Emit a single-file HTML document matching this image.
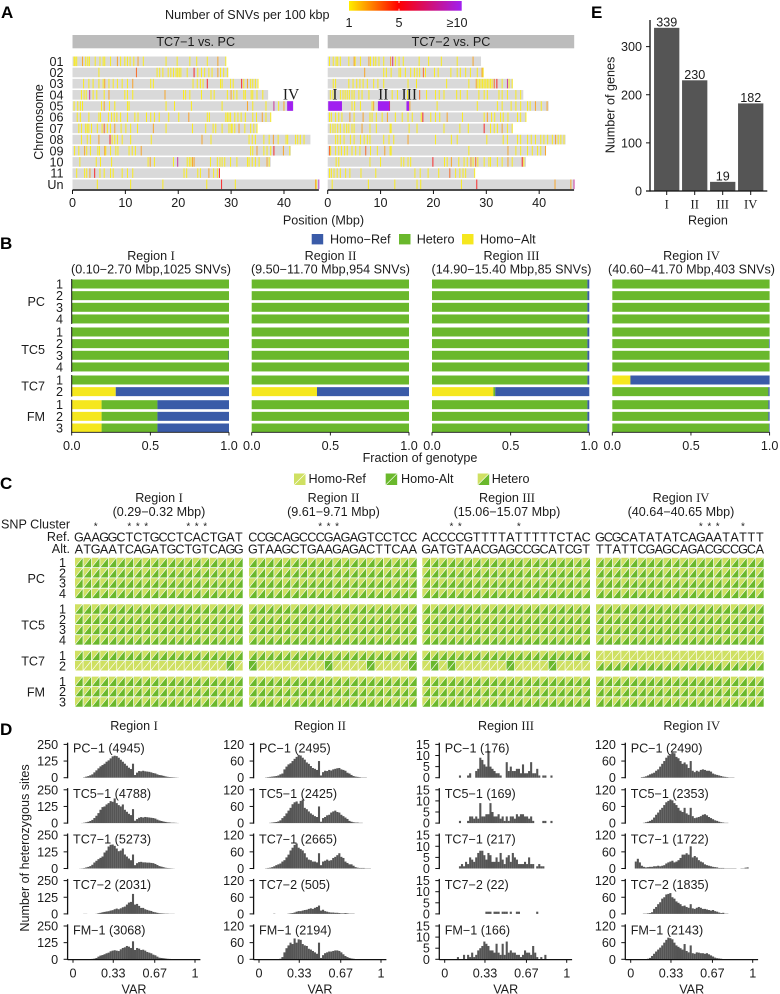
<!DOCTYPE html>
<html lang="en">
<head>
<meta charset="utf-8">
<title>SNV figure</title>
<style>
html,body{margin:0;padding:0;background:#fff}
svg{display:block;filter:blur(0.3px)}
text{font-family:"Liberation Sans",Arial,sans-serif;font-size:12.6px;fill:#1c1c1c}
.rn{font-family:"Liberation Serif",serif}
.pl{font-weight:bold;font-size:17px;fill:#000}
.m{text-anchor:middle}
</style>
</head>
<body>
<svg id="fig" xmlns="http://www.w3.org/2000/svg" width="780" height="994" viewBox="0 0 780 994">
<defs>
<linearGradient id="cbar" x1="0" x2="1" y1="0" y2="0">
<stop offset="0" stop-color="#ffee00"/><stop offset="0.44" stop-color="#ff0000"/><stop offset="1" stop-color="#a020f0"/>
</linearGradient>
</defs>
<text class="pl" x="1" y="18">A</text>
<text class="pl" x="0" y="249">B</text>
<text class="pl" x="0" y="489">C</text>
<text class="pl" x="0" y="735">D</text>
<text class="pl" x="591" y="18">E</text>

<text x="165" y="19">Number of SNVs per 100 kbp</text>
<rect x="349" y="1" width="112.7" height="9.7" fill="url(#cbar)"/>
<rect x="398.6" y="1" width="0.8" height="2" fill="#fff"/>
<rect x="398.6" y="8.7" width="0.8" height="2" fill="#fff"/>
<text class="m" x="349" y="27">1</text>
<text class="m" x="399" y="27">5</text>
<text class="m" x="457" y="27">≥10</text>

<rect x="72.5" y="35" width="246.5" height="13.3" fill="#bcbcbc"/>
<rect x="327.7" y="35" width="246.5" height="13.3" fill="#bcbcbc"/>
<text class="m" x="195.7" y="46.2">TC7−1 vs. PC</text>
<text class="m" x="451" y="46.2">TC7−2 vs. PC</text>
<text class="m" transform="translate(43,122) rotate(-90)">Chromosome</text>
<text class="m" x="323.5" y="224.5">Position (Mbp)</text>

<text class="m" x="420" y="462">Fraction of genotype</text>
<rect x="311.7" y="234" width="11.5" height="10.4" fill="#3a5ba8"/>
<text x="330" y="243.5">Homo−Ref</text>
<rect x="399" y="234" width="11.5" height="10.4" fill="#6ab82c"/>
<text x="416.7" y="243.5">Hetero</text>
<rect x="462" y="234" width="11.5" height="10.4" fill="#f5e71e"/>
<text x="480" y="243.5">Homo−Alt</text>

<text class="m" x="151" y="260">Region <tspan class="rn">I</tspan></text>
<text class="m" x="151" y="273.7">(0.10−2.70 Mbp,1025 SNVs)</text>
<text class="m" x="330.5" y="260">Region <tspan class="rn">II</tspan></text>
<text class="m" x="330.5" y="273.7">(9.50−11.70 Mbp,954 SNVs)</text>
<text class="m" x="511.5" y="260">Region <tspan class="rn">III</tspan></text>
<text class="m" x="511.5" y="273.7">(14.90−15.40 Mbp,85 SNVs)</text>
<text class="m" x="691.5" y="260">Region <tspan class="rn">IV</tspan></text>
<text class="m" x="691.5" y="273.7">(40.60−41.70 Mbp,403 SNVs)</text>

<text x="308.5" y="483">Homo-Ref</text>
<text x="401" y="483">Homo-Alt</text>
<text x="491.7" y="483">Hetero</text>

<text class="m" x="159" y="502">Region <tspan class="rn">I</tspan></text>
<text class="m" x="159" y="516">(0.29−0.32 Mbp)</text>
<text class="m" x="333.5" y="502">Region <tspan class="rn">II</tspan></text>
<text class="m" x="333.5" y="516">(9.61−9.71 Mbp)</text>
<text class="m" x="507" y="502">Region <tspan class="rn">III</tspan></text>
<text class="m" x="507" y="516">(15.06−15.07 Mbp)</text>
<text class="m" x="681" y="502">Region <tspan class="rn">IV</tspan></text>
<text class="m" x="681" y="516">(40.64−40.65 Mbp)</text>
<text x="1" y="528.5">SNP Cluster</text>
<text x="70" y="541" text-anchor="end">Ref.</text>
<text x="70" y="553" text-anchor="end">Alt.</text>

<text class="m" x="134" y="730">Region <tspan class="rn">I</tspan></text>
<text class="m" x="320" y="730">Region <tspan class="rn">II</tspan></text>
<text class="m" x="506" y="730">Region <tspan class="rn">III</tspan></text>
<text class="m" x="691.7" y="730">Region <tspan class="rn">IV</tspan></text>
<text class="m" transform="translate(29,848) rotate(-90)">Number of heterozygous sites</text>

<text class="m" transform="translate(614.5,105) rotate(-90)">Number of genes</text>
<text class="m" x="708" y="224.5">Region</text>
</svg>
<script>
/* ---------- Panel A data (Mbp) ---------- */
const chromosomes = ["01","02","03","04","05","06","07","08","09","10","11","Un"];
const chromLengths = [29.0,29.5,35.0,37.0,41.8,37.5,35.0,45.0,41.3,37.5,27.8,46.6];
const tc71Positions = [
[0.2,0.4,0.7,2.4,2.8,3.1,4.2,5.1,5.7,6.0,7.1,9,9.8,10.3,10.8,11.5,13.3,17.6,19.7,22.1,23.4,25.4,28.9],
[4.9,15.9,16.4,17,18,18.5,19,19.5,19.8,20.1,20.4,21.6,23.6,24.3,24.9,25.7,26.3,27.9,28.5,29.2],
[2,3,3.8,4.9,5.7,6.8,7.6,8.4,9.3,10.3,14.7,15.2,22.7,23.5,24.1,24.6,27.9,28.2,29.8,30.3,32.3,33.6,34,34.5,35],
[1.6,2.1,2.5,3.8,4.5,5.9,9.8,10.3,11.3,20.9,21.3,22.1,24.3,26.1,26.7,29.2,30.4,31,32.3,32.6,33.7,34,34.8,35.9],
[0.2,0.9,1.4,1.8,5.4,6.9,7.9,10.3,10.6,17.6,19.2,22.4,28.2,34,36.5,38.9],
[0.8,1.4,3,4.9,5.2,6.7,7.3,7.8,8.3,9,10.3,11.7,12.3,13.9,14.7,15.4,16.3,18.1,20,25.4,25.8,28.9,29.2,29.5,29.8,30.6,31.2,31.8,32.6,34,34.7,36.5,37.4],
[1.1,1.6,2.4,2.7,3,3.5,4.6,5.5,6.5,7.1,9.1,10,10.9,12.2,17.6,22.6,25.1,26.5,27,28.2,29.5,29.9,30.1,30.6,32.5,33.6,34.2,34.8],
[1.6,2.7,3.3,7.4,7.9,8.4,9.3,10.9,14.8,26.1,33.3,33.9,34.5,36.1,37.1,38.8,40.3,40.6,42.1,42.5,43,43.7],
[0.3,1.1,2.6,3.3,4.7,5,6.2,7.1,8.1,8.5,10.6,11.2,11.8,33.6,34,36.1,36.7,37.4,41],
[1.3,4.4,5.2,7.3,14.2,15.4,19,21.6,22,22.3,26,27.3,27.8,28.2,28.7,29.8,31,33,33.3,33.9,34.5,35.2,37.1],
[0.7,2.2,2.6,5.1,5.9,7.1,7.6,9.3,10.3,11.3,21,21.5,23.6,24.1,26.6,27.3],
[4.6,10.9,17,25.3,30.7,46]
];
const tc71Hotspots = [
[0,1.8,3],[0,8.4,3],[0,12.3,3],[0,27.4,3],[1,12,4],[1,22.9,5],[1,27.4,3],[2,6,3],[2,11.3,3],[2,25.4,5],[2,31.9,5],[2,33,3],
[3,3.15,8],[3,6.8,3],[3,17.4,3],[3,29.9,3],[4,5.9,3],[4,33,3],[4,38,8],[4,39.9,3],[5,21.9,3],[5,35.8,3],[6,5.9,4],[6,7.9,3],[6,15.2,3],[6,31.4,3],
[7,4.9,3],[7,7,5],[7,24.4,3],[7,37.9,3],[8,2.2,3],[8,6,3],[8,12.9,3],[8,34.8,3],[8,38,5],[8,39.8,3],[9,14.6,3],[9,19.8,8],[9,22.6,3],[9,22.9,3],[9,36.7,3],
[10,3.2,3],[10,4.1,5],[10,25.7,3],[10,27.7,5],[11,28.1,5],[11,45.9,3],[11,46.5,9]
];
const tc71Blocks = [[4,40.6,41.7,10]];
const tc72Positions = [
[0.25,0.95,1.5,1.8,2.3,3.9,5.1,6.1,8,8.6,9,9.6,10.5,12.7,13.4,14.2,17.2,19,21.4,24.4],
[10.5,11,11.9,13.4,13.7,14.6,15.6,16.3,16.8,17.3,18.4,20.1,20.8,23.2,24.4,25,26,26.9,28.2,29.3],
[0.95,1.4,3.9,4.7,5.4,6,6.6,7.4,8.6,9.4,10.5,15.1,16.7,22.4,26.6,28.3,28.6,28.9,29.2,29.5,29.8,30.1,30.4,30.7,31,32.9,34.2,34.8],
[0.4,0.9,2.3,2.8,3.2,3.6,4,4.5,4.9,5.8,6.4,7.7,12.1,13.1,15,15.3,18.6,20.3,21,21.9,24.3,25,26.3,28.5,29.5,30.1,32.3,32.9,33.9,35.5,36.4],
[4.5,5,6.1,8.3,20.6,28.2,32,32.9,34.6,35.5,36.4,37.7,38.2,40.3],
[0.25,0.6,1.4,2,2.6,4.9,7.9,8.3,9.1,10.2,12.7,14,15.1,15.9,17.6,19.4,20.3,21.1,25.4,29.5,30.9,31.5,32.6,33.1,34,35.8,36.4,37.4],
[0.4,0.9,1.3,1.8,2.3,3,3.5,3.9,4.5,4.9,7.9,9.1,11.7,11.9,15.3,16.8,21.9,24.9,26.5,30.7,31.4,32,33.9,34.8],
[1.4,1.8,2.3,3,4.2,4.9,6.1,6.8,7.4,7.9,10.5,11.5,12.4,20.3,23.3,24.4,30,33.1,33.9,35.8,36.4,37.7,38.4,39.2,40.2,40.8,41.5,42.4,43.5,44,44.6],
[0.45,1.4,2,2.5,3.1,3.6,4.5,5.2,6,8,9.3,11.7,11.9,26.6,35.5,36.4,37.7,38.6,39.6,40.2],
[1.5,2,7.9,9.9,13.8,14.3,15.1,15.6,22,22.5,24.7,25.7,26.3,27.4,28.3,29.5,30.4,30.7,32,32.9,34.8,37],
[0.25,0.6,1.1,1.7,2.3,3.3,4.1,6.2,9,16.4,17.4,18.9,20.9,24.1,24.9,25.5,26,27.7],
[0.75,7.6,12.6,16.8,17.5,25.2]
];
const tc72Hotspots = [
[0,4.9,3],[0,7.7,3],[0,11.8,3],[0,12.2,7],[0,27.4,3],[1,6.9,3],[1,18,4],[1,29.1,3],[2,28,3],[2,31.4,4],[2,31.9,5],[2,33.9,8],
[3,17.3,4],[4,8.6,3],[4,11.6,5],[4,15.45,3],[4,39.2,3],[4,41.4,3],[5,4.1,3],[5,6.6,3],[5,11.2,3],[5,17.9,5],[5,22.5,3],[5,30.1,3],
[6,6.4,3],[6,29.5,5],[6,32.9,3],[7,15.1,3],[7,43,3],[8,0.25,4],[8,7.1,4],[8,10.7,3],[8,34,3],[8,41.1,3],[9,19.8,5],[9,23.3,3],[9,27,3],[9,27.9,4],[9,34,3],[9,36.7,5],
[10,23,4],[11,28.1,5],[11,42.9,3],[11,45.9,3],[11,46.5,8]
];
const tc72Blocks = [[4,0.1,2.7,10],[4,9.5,11.7,10],[4,14.9,15.4,10]];
const positionTicks = [0,10,20,30,40];
const regionMarks = [["IV",291,0],["I",335,1],["II",383.3,1],["III",409.3,1]];

/* ---------- Panel B data (fractions) ---------- */
const genotypeGroups = ["PC","TC5","TC7","FM"];
const genotypeGroupSizes = [4,4,2,3];
const region1Alt = [0,0,0,0,0,0,0,0,0,0.28,0.19,0.19,0.19];
const region1Ref = [0,0,0,0,0,0,0.003,0,0,0.72,0.455,0.455,0.455];
const region2Alt = [0,0,0,0,0,0,0,0,0,0.415,0,0,0];
const region2Ref = [0,0,0,0,0,0,0,0,0,0.585,0,0,0];
const region3Alt = [0,0,0,0,0,0,0,0,0,0.39,0,0,0];
const region3Ref = [0.012,0.012,0.012,0.012,0.012,0.012,0.012,0.012,0.012,0.598,0.012,0.012,0.012];
const region4Alt = [0,0,0,0,0,0,0,0,0.115,0,0,0,0];
const region4Ref = [0,0,0,0,0,0.004,0,0,0.885,0.008,0.008,0.008,0.004];
const fractionTicks = ["0.0","0.5","1.0"];

/* ---------- Panel C data ---------- */
const refSeqs = ["GAAGGCTCTGCCTCACTGAT","CCGCAGCCCGAGAGTCCTCC","ACCCCGTTTTATTTTTCTAC","GCGCATATATCAGAATATTT"];
const altSeqs = ["ATGAATCAGATGCTGTCAGG","GTAAGCTGAAGAGACTTCAA","GATGTAACGAGCCGCATCGT","TTATTCGAGCAGACGCCGCA"];
const clusterStars = [[2,6,7,8,13,14,15],[8,9,10],[3,4,11],[12,13,14,17]];
const tc71Genotypes = ["HHHHHHHHHHHHHHHHHHHH","HHHHHHHHHHHHHHHHHHHH","HHHHHHHHHHHHHHHHHHHH","RRRRRRRRRRRRRRRRRRRR"];
const tc72Genotypes = ["RRRRRRRRRRRRRRRRRRAR","ARRRRRRRRARRRRARRRRA","RARARRRRRRARRRRARRRR","HHHHHHHHHHHHHHHHHHHH"];

/* ---------- Panel D data (counts per VAR bin, 60 bins) ---------- */
const sampleNames = ["PC−1","TC5−1","TC7−1","TC7−2","FM−1"];
const sampleTotals = [[4945,4788,5273,2031,3068],[2495,2425,2665,505,2194],[176,169,217,22,166],[2490,2353,1722,1835,2143]];
const histMaxima = [250,120,15,120];
const histTicks = [[0,125,250],[0,60,120],[0,5,10,15],[0,60,120]];
const varTicks = [0,0.33,0.67,1];
const histI = [
[0,0,0,0,0,3,8,12,18,25,40,55,70,85,95,105,120,130,145,160,165,162,150,135,120,105,90,75,65,105,20,38,50,48,52,48,46,44,40,35,32,25,20,18,14,10,7,5,4,3,2,1],
[0,0,0,0,1,3,6,10,16,24,38,55,75,100,120,125,140,150,165,160,185,150,135,125,140,100,85,70,60,105,18,30,40,45,42,46,44,42,40,38,34,26,20,16,12,9,6,5,3,3,2,1],
[0,0,0,1,2,4,8,12,18,28,45,58,70,80,90,120,135,165,178,180,170,150,130,135,150,105,90,75,62,105,25,40,48,50,46,46,44,44,42,40,34,26,18,14,10,6,4,3,2,1],
[0,0,0,0,0,1,1,0,0,0,0,1,5,8,12,15,18,20,25,28,35,40,35,42,50,55,70,85,90,150,70,75,60,45,45,35,30,25,22,15,12,8,5,4,3,2,2,1,1,1],
[0,0,0,0,0,0,0,0,1,3,5,10,20,28,32,38,45,50,60,65,68,65,62,75,85,90,100,95,85,135,70,85,80,70,72,65,55,50,45,35,30,20,12,10,8,6,4,3,2,1]
];
const histII = [
[0,0,0,1,2,3,4,5,6,8,12,15,30,40,48,52,60,68,75,82,80,72,65,55,50,42,35,32,28,60,8,20,25,24,28,26,30,32,34,35,30,28,25,18,15,10,6,4,3,2,1,1,1],
[0,0,0,0,0,1,2,3,4,6,10,18,25,35,45,55,68,75,78,70,80,85,55,50,42,35,30,25,22,60,5,18,22,28,30,38,42,45,40,38,30,25,20,15,8,5,3,2,2,1,1],
[0,0,0,1,2,3,5,8,12,15,18,25,30,40,50,65,75,85,90,75,70,65,55,40,32,30,25,25,22,55,12,25,28,32,28,30,38,42,48,55,42,38,25,20,15,15,10,5,3,2,2,2,1,1,1],
[0,0,0,0,0,0,0,1,0,0,0,0,0,0,1,2,3,5,8,10,10,12,14,15,18,20,18,22,25,30,12,15,10,8,6,5,5,4,4,3,2,2,3,2,1,1,1],
[0,0,0,0,0,0,0,0,0,1,2,8,25,40,50,60,55,75,60,72,70,55,50,48,38,35,30,25,20,60,5,15,22,25,28,28,30,32,32,30,25,18,12,8,5,3,2,1]
];
const histIII = [
[0,0,0,0,0,0,0,1,0,0,0,1,2,0,0,3,4,9,8,6,5,12,5,4,3,2,2,1,0,0,7,3,5,3,3,4,4,2,6,2,2,3,7,2,2,4,1,0,1,1,0,0,1],
[0,0,0,0,0,0,0,1,0,0,0,1,3,3,2,3,2,9,3,3,4,4,9,5,3,3,4,2,3,1,3,1,3,3,2,4,3,4,4,3,3,2,3,1,0,0,0,0,1,1,0,0,1],
[0,0,0,0,0,0,0,1,2,1,3,2,5,4,3,5,7,8,8,6,4,7,6,3,3,5,3,7,4,2,5,6,3,7,5,4,2,2,2,3,2,5,2,2,0,1,2,1,1],
[0,0,0,0,0,0,0,0,0,0,0,0,0,0,0,0,0,0,0,0,1,1,1,0,1,1,1,0,1,1,1,0,1,0,0,1,1,0,0,0,0,0,0,0,0,1],
[0,0,0,0,0,0,1,0,0,2,0,2,1,3,1,2,4,5,6,8,7,6,4,4,3,7,3,2,7,2,8,3,4,3,3,2,2,1,2,4,3,3,2,6,3,1,0,1,0,2]
];
const histIV = [
[0,0,0,0,0,2,3,5,8,12,15,18,25,30,40,50,60,72,80,85,90,88,75,70,60,50,55,48,35,60,25,20,25,22,28,30,28,25,25,22,15,12,10,8,6,4,3,2,1,1,1],
[0,0,0,0,0,0,1,3,5,8,12,20,30,38,48,55,65,75,80,85,82,72,65,55,45,40,55,35,30,55,25,18,20,22,25,30,32,28,22,18,14,10,8,5,3,2,1,1],
[0,0,25,35,22,10,6,4,5,6,6,8,8,10,8,10,12,18,22,25,28,22,25,30,38,50,50,55,50,80,40,45,40,30,25,22,15,12,10,8,6,5,4,2,2,2,1,1,1,1,1,1,0,0,1,1,3,4],
[0,0,0,0,0,0,1,1,2,3,6,18,25,35,42,55,60,70,72,75,60,55,45,40,35,28,30,25,22,35,20,18,22,25,22,18,18,16,14,12,14,10,8,5,3,4,1,1],
[0,0,0,0,0,0,0,1,2,5,12,20,28,35,42,50,60,70,78,76,72,60,50,45,40,35,55,30,25,50,22,20,25,24,22,22,20,22,18,14,10,6,4,3,2,1,1]
];

/* ---------- Panel E data ---------- */
const geneRegions = ["I","II","III","IV"];
const geneCounts = [339,230,19,182];
const geneTicks = [0,100,200,300];

/* ---------- helpers ---------- */
const NS = "http://www.w3.org/2000/svg";
const fig = document.getElementById("fig");
function mk(tag, attrs) {
  const e = document.createElementNS(NS, tag);
  for (const k in attrs) e.setAttribute(k, attrs[k]);
  fig.appendChild(e);
  return e;
}
function rect(x, y, w, h, fill) {
  return mk("rect", {x: x, y: y, width: w, height: h, fill: fill});
}
function line(x1, y1, x2, y2, sw, col) {
  return mk("line", {x1: x1, y1: y1, x2: x2, y2: y2, stroke: col || "#111", "stroke-width": sw});
}
function text(x, cy, s, anchor, size, cls) {
  const sz = size || 12.6;
  const a = {x: x, y: cy + sz * 0.36, "text-anchor": anchor || "middle", style: "font-size:" + sz + "px"};
  if (cls) a["class"] = cls;
  const e = mk("text", a);
  e.textContent = s;
  return e;
}
function lerp(a, b, t) { return Math.round(a + (b - a) * t); }
function countColor(c) {
  if (c <= 5) {
    const t = (c - 1) / 4;
    return "rgb(255," + lerp(238, 0, Math.pow(t, 1.5)) + ",0)";
  }
  const t = Math.min(1, (c - 5) / 5);
  return "rgb(" + lerp(255, 160, t) + "," + lerp(0, 32, t) + "," + lerp(0, 240, t) + ")";
}

/* ---------- Panel A ---------- */
const mbpScale = 5.287;
const binMbp = 0.19;
function rowY(i) { return 61.3 + i * 11.18; }
function drawKaryo(x0, positions, hotspots, blocks, label) {
  const X = function (p) { return x0 + p * mbpScale; };
  chromosomes.forEach(function (c, i) {
    const bg = rect(X(0), rowY(i) - 4.8, chromLengths[i] * mbpScale, 9.6, "#d9d9d9");
    
    
    positions[i].forEach(function (p) {
      const m = rect(X(p), rowY(i) - 4.8, binMbp * mbpScale, 9.6, countColor(1));
      m.setAttribute('fill-opacity', '0.85');
      
      
    });
  });
  hotspots.forEach(function (h) {
    const m = rect(X(h[1]), rowY(h[0]) - 4.8, binMbp * mbpScale, 9.6, countColor(h[2]));
    m.setAttribute('fill-opacity', '0.8');
    
    
  });
  blocks.forEach(function (b) {
    const m = rect(X(b[1]), rowY(b[0]) - 4.8, (b[2] - b[1]) * mbpScale, 9.6, countColor(b[3]));
    
    
  });
  const ax = line(X(0), 190, X(46.6), 190, 1.4);
  
  
  positionTicks.forEach(function (t) {
    const tk = line(X(t), 190, X(t), 194, 1);
    
    
    const tl = text(X(t), 202.5, String(t));
    
    
  });
}
drawKaryo(72.5, tc71Positions, tc71Hotspots, tc71Blocks, 'tc7-1');
drawKaryo(327.7, tc72Positions, tc72Hotspots, tc72Blocks, 'tc7-2');
chromosomes.forEach(function (c, i) {
  const l = text(63.5, rowY(i), c, "end");
  
  
});
regionMarks.forEach(function (r) {
  const e = text(r[1], 94, r[0], "middle", 15.5, "rn");
  
  
});

/* ---------- Panel B ---------- */
const bPanels = [
  {x0: 71.7, alt: region1Alt, ref: region1Ref},
  {x0: 251.7, alt: region2Alt, ref: region2Ref},
  {x0: 432, alt: region3Alt, ref: region3Ref},
  {x0: 612.3, alt: region4Alt, ref: region4Ref}
];
const bWidth = 157.3;
function bRowY(k, g) { return 284 + k * 11.65 + g * 1.4; }
bPanels.forEach(function (p, pi) {
  const X = function (f) { return p.x0 + f * bWidth; };
  let k = 0;
  genotypeGroupSizes.forEach(function (n, g) {
    for (let j = 0; j < n; j++, k++) {
      const y = bRowY(k, g) - 4.5;
      const alt = p.alt[k], ref = p.ref[k], het = 1 - alt - ref;
      const s1 = rect(X(0), y, alt * bWidth, 9, "#f5e71e");
      
      
      const s2 = rect(X(alt), y, het * bWidth, 9, "#6ab82c");
      
      
      const s3 = rect(X(alt + het), y, ref * bWidth, 9, "#3a5ba8");
      
      
      if (pi === 0) {
        const l = text(63, bRowY(k, g), String(j + 1), "end");
        
        
      }
    }
    if (pi === 0) {
      const top = bRowY(k - n, g) - 5;
      const bot = bRowY(k - 1, g) + 5;
      const v = line(X(0), top, X(0), bot, 1);
      
      
      const gl = text(45, (top + bot) / 2, genotypeGroups[g], "end");
      
      
    }
  });
  const ax = line(X(0), 432.3, X(1), 432.3, 0.9);
  
  
  fractionTicks.forEach(function (t) {
    const tk = line(X(+t), 432.3, X(+t), 435.5, 0.9);
    
    
    const tl = text(X(+t), 445.5, t);
    
    
  });
});

/* ---------- Panel C ---------- */
const lightGreen = "#cfe062", darkGreen = "#6ab82c";
function drawCell(x, y, w, h, type) {
  const up = mk("polygon", {points: x + "," + y + " " + (x + w) + "," + y + " " + x + "," + (y + h), fill: type === "A" ? darkGreen : lightGreen});
  
  
  const lo = mk("polygon", {points: (x + w) + "," + y + " " + (x + w) + "," + (y + h) + " " + x + "," + (y + h), fill: type === "R" ? lightGreen : darkGreen});
  
  
  const d = line(x, y + h, x + w, y, 0.6, "#fff");
  
  
}
drawCell(294, 473.5, 11.5, 11.5, "R");
drawCell(385.7, 473.5, 11.5, 11.5, "A");
drawCell(477.7, 473.5, 11.5, 11.5, "H");
const cX0 = [75, 249, 422.3, 596];
const cPitchX = 8.42, cPitchY = 10.3, cW = 7.7, cH = 9.5;
cX0.forEach(function (x0, r) {
  for (let i = 0; i < 20; i++) {
    const cx = x0 + i * cPitchX + cW / 2;
    const a = text(cx, 537, refSeqs[r][i]);
    
    
    const b = text(cx, 549, altSeqs[r][i]);
    
    
  }
  clusterStars[r].forEach(function (i) {
    const s = text(x0 + i * cPitchX + cW / 2, 526, "*", "middle", 10);
    
    
  });
  let k = 0;
  genotypeGroupSizes.forEach(function (n, g) {
    for (let j = 0; j < n; j++, k++) {
      const y = 557.7 + k * cPitchY + g * 5.3;
      let row = "HHHHHHHHHHHHHHHHHHHH";
      if (k === 8) row = tc71Genotypes[r];
      if (k === 9) row = tc72Genotypes[r];
      for (let i = 0; i < 20; i++) drawCell(x0 + i * cPitchX, y, cW, cH, row[i]);
      if (r === 0) {
        const l = text(66, y + cH / 2, String(j + 1), "end");
        
        
      }
    }
    if (r === 0) {
      const cy = 557.7 + (k - n / 2) * cPitchY + g * 5.3;
      const gl = text(45, cy, genotypeGroups[g], "end");
      
      
    }
  });
});

/* ---------- Panel D ---------- */
const histColumns = [histI, histII, histIII, histIV];
const dX0 = [73, 259, 444.7, 630.7];
const dWidth = 122, dHeight = 33.3;
function dBase(row) { return 777.7 + row * 45.4; }
histColumns.forEach(function (col, c) {
  const X = function (v) { return dX0[c] + v * dWidth; };
  const axX = dX0[c] - 5.4;
  col.forEach(function (values, r) {
    const base = dBase(r);
    const Y = function (v) { return base - v / histMaxima[c] * dHeight; };
    values.forEach(function (v, i) {
      if (v <= 0) return;
      const b = rect(X(i / 60), Y(v), dWidth / 60 + 0.05, base - Y(v), "#555");
      
      
    });
    const v = line(axX, Y(histMaxima[c]) - 1.7, axX, base + 0.6, 1.3);
    
    
    histTicks[c].forEach(function (t) {
      const tk = line(axX - 4, Y(t), axX, Y(t), 1);
      
      
      const tl = text(axX - 9.4, Y(t), String(t), "end");
      
      
    });
    const name = text(X(0), base - 29.5, sampleNames[r] + " (" + sampleTotals[c][r] + ")", "start");
    
    
  });
  const last = dBase(4);
  const ax = line(axX, last + 0.3, X(1) + 5.4, last + 0.3, 1.2);
  
  
  varTicks.forEach(function (t) {
    const tk = line(X(t), last, X(t), last + 3.5, 1);
    
    
    const tl = text(X(t), 973, String(t));
    
    
  });
  const vt = text(X(0.5), 989, "VAR");
  
  
});

/* ---------- Panel E ---------- */
function eY(v) { return 191 - v * 0.4813; }
function eX(i) { return 666.7 + i * 28; }
geneCounts.forEach(function (v, i) {
  const b = rect(eX(i) - 12.65, eY(v), 25.3, 191 - eY(v), "#555");
  
  
  const l = text(eX(i), eY(v) - 6, String(v));
  
  
  const tk = line(eX(i), 191, eX(i), 195, 1);
  
  
  const xl = text(eX(i), 204, geneRegions[i], "middle", 12.6, "rn");
  
  
});
geneTicks.forEach(function (t) {
  const tk = line(646, eY(t), 650, eY(t), 1);
  
  
  const tl = text(642, eY(t), String(t), "end");
  
  
});
const eAxY = line(650, 20, 650, 191.6, 1.3);


const eAxX = line(646, 191, 767.3, 191, 1.3);


</script>
</body>
</html>
